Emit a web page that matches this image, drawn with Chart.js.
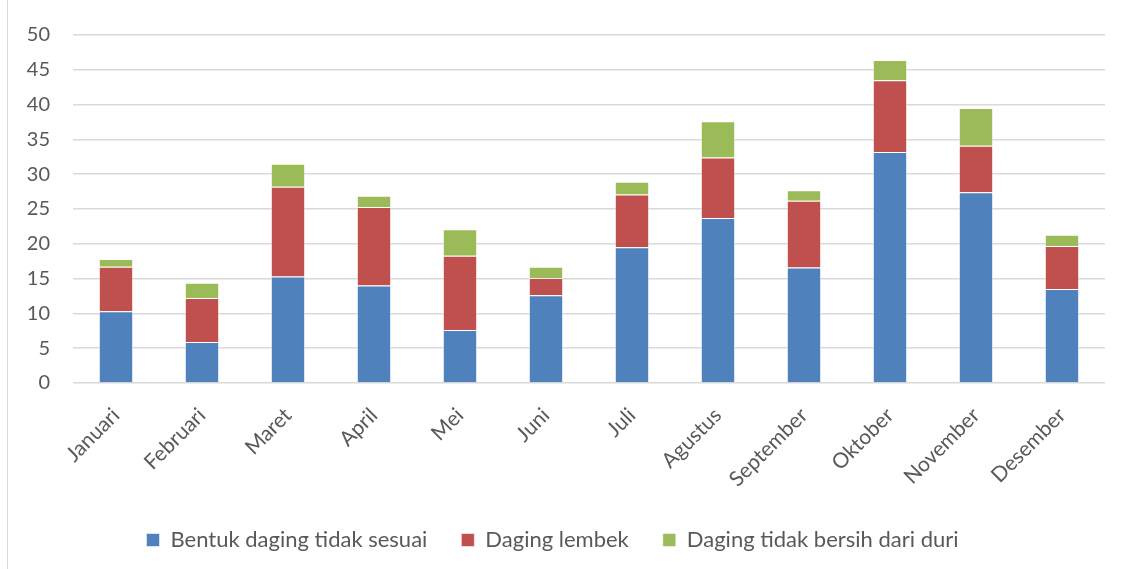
<!DOCTYPE html>
<html>
<head>
<meta charset="utf-8">
<script src="https://cdn.jsdelivr.net/npm/chart.js@4/dist/chart.umd.min.js"></script>
<style>
  html, body { margin: 0; padding: 0; background: #fff; }
  #wrap { position: relative; width: 1126px; height: 569px; }
  #frame { position: absolute; left: 7px; top: 0; width: 0; height: 569px; border-left: 1px solid #d9d9d9; }
  canvas { position: absolute; left: 0; top: 0; }
</style>
</head>
<body>
<div id="wrap">
  <div id="frame"></div>
  <canvas id="chart" width="1126" height="569"></canvas>
</div>
<script>
// Monthly defect counts, stacked by defect type
const months = ['Januari', 'Februari', 'Maret', 'April', 'Mei', 'Juni', 'Juli', 'Agustus', 'September', 'Oktober', 'November', 'Desember'];
const bentukTidakSesuai = [10.3, 5.9, 15.3, 14.0, 7.6, 12.6, 19.5, 23.7, 16.6, 33.2, 27.4, 13.5];
const dagingLembek      = [6.4, 6.3, 12.9, 11.3, 10.7, 2.5, 7.6, 8.7, 9.6, 10.3, 6.7, 6.2];
const tidakBersihDuri   = [1.1, 2.2, 3.3, 1.6, 3.8, 1.6, 1.8, 5.2, 1.5, 2.9, 5.4, 1.6];
const yTicks = [0, 5, 10, 15, 20, 25, 30, 35, 40, 45, 50];

const textColor = '#595959';
const fontFamily = 'Lato, "Open Sans", sans-serif';

new Chart(document.getElementById('chart'), {
  type: 'bar',
  data: {
    labels: months,
    datasets: [
      { label: 'Bentuk daging tidak sesuai', data: bentukTidakSesuai, backgroundColor: '#4F81BD' },
      { label: 'Daging lembek', data: dagingLembek, backgroundColor: '#C0504D' },
      { label: 'Daging tidak bersih dari duri', data: tidakBersihDuri, backgroundColor: '#9BBB59' }
    ]
  },
  options: {
    responsive: false,
    animation: false,
    layout: { padding: { top: 34, right: 21, left: 0, bottom: 8 } },
    datasets: {
      bar: {
        categoryPercentage: 1,
        barPercentage: 0.40,
        borderColor: 'rgba(255,255,255,0.55)',
        borderWidth: 1
      }
    },
    scales: {
      x: {
        stacked: true,
        grid: { display: false, drawTicks: false },
        border: { display: false },
        ticks: {
          color: textColor,
          font: { family: fontFamily, size: 21 },
          maxRotation: 45,
          minRotation: 45,
          padding: 20
        },
        afterFit: (s) => { s.height = 112; }
      },
      y: {
        stacked: true,
        min: 0,
        max: 50,
        afterBuildTicks: (s) => { s.ticks = yTicks.map(v => ({ value: v })); },
        grid: { color: '#d9d9d9', lineWidth: 1.5, drawTicks: false },
        border: { display: false },
        ticks: {
          color: textColor,
          font: { family: fontFamily, size: 20 },
          padding: 23
        },
        afterFit: (s) => { s.width = 73; }
      }
    },
    plugins: {
      legend: {
        position: 'bottom',
        labels: {
          color: textColor,
          font: { family: fontFamily, size: 22 },
          boxWidth: 13,
          boxHeight: 13,
          padding: 34
        }
      },
      tooltip: { enabled: false }
    }
  }
});
</script>
</body>
</html>
